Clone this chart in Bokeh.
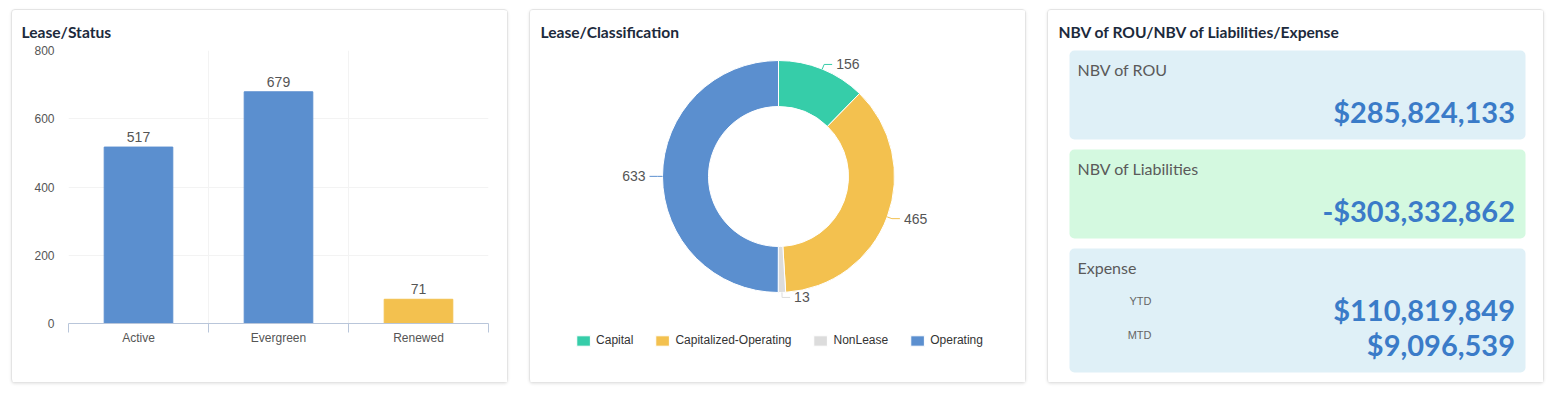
import math
from bokeh.plotting import figure
from bokeh.layouts import row
from bokeh.models import Range1d, FixedTicker, BoxAnnotation, ColumnDataSource
from bokeh.core.properties import value
from bokeh.embed import file_html
from bokeh.resources import INLINE

# ---------------- data ----------------
titles = ["Lease/Status", "Lease/Classification", "NBV of ROU/NBV of Liabilities/Expense"]

status_categories = ["Active", "Evergreen", "Renewed"]
status_counts = [517, 679, 71]
status_colors = ["#5b8fcf", "#5b8fcf", "#f3c14f"]
y_ticks = [0, 200, 400, 600, 800]

class_categories = ["Capital", "Capitalized-Operating", "NonLease", "Operating"]
class_counts = [156, 465, 13, 633]
class_colors = ["#36cda9", "#f3c14f", "#dcdcdc", "#5b8fcf"]

kpi_labels = ["NBV of ROU", "NBV of Liabilities", "Expense"]
kpi_values = ["$285,824,133", "-$303,332,862"]
expense_periods = ["YTD", "MTD"]
expense_values = ["$110,819,849", "$9,096,539"]
panel_colors = ["#dff0f7", "#d4f9e0", "#dff0f7"]

# ---------------- styling ----------------
W, H = 497, 374
CARD = {"border": "1px solid #e4e4e4", "border-radius": "4px",
        "box-shadow": "0 1px 3px rgba(0,0,0,0.10)", "background-color": "white"}
LATO = "Lato"
TITLE_COLOR = "#1c2a3c"
TITLE_SIZE = "15.6px"
ARIAL = "Liberation Sans"


def base_fig(**kw):
    p = figure(width=W, height=H, output_backend="svg", toolbar_location=None, **kw)
    p.outline_line_color = None
    p.background_fill_color = "white"
    p.border_fill_color = "white"
    p.frame_align = False
    p.styles = CARD
    return p


# ---------------- card 1: bar chart ----------------
n = len(status_categories)
centers = [i + 0.5 for i in range(n)]
bounds = [float(i) for i in range(n + 1)]
src1 = ColumnDataSource(dict(x=centers, top=status_counts, color=status_colors,
                             label=[str(v) for v in status_counts]))

p1 = base_fig(x_range=Range1d(0, n), y_range=Range1d(0, y_ticks[-1]),
              min_border_left=56, min_border_right=21, min_border_top=40, min_border_bottom=61)
p1.vbar(x="x", top="top", width=0.49, color="color", source=src1)
p1.text(x="x", y="top", text="label", source=src1, y_offset=-5, text_align="center",
        text_baseline="bottom", text_font=value(ARIAL), text_font_size="14px", text_color="#555555")

xa = p1.xaxis[0]
xa.ticker = FixedTicker(ticks=centers, minor_ticks=bounds)
xa.major_label_overrides = {c: s for c, s in zip(centers, status_categories)}
xa.axis_line_color = "#b9c6da"
xa.major_tick_line_color = None
xa.major_tick_out = 0
xa.major_tick_in = 0
xa.minor_tick_line_color = "#b9c6da"
xa.minor_tick_out = 9
xa.minor_tick_in = 0
xa.major_label_standoff = -2
xa.major_label_text_font = ARIAL
xa.major_label_text_font_size = "12px"
xa.major_label_text_color = "#555555"

ya = p1.yaxis[0]
ya.ticker = FixedTicker(ticks=y_ticks)
ya.axis_line_color = None
ya.major_tick_line_color = None
ya.minor_tick_line_color = None
ya.major_tick_out = 0
ya.major_tick_in = 0
ya.major_label_standoff = 14
ya.major_label_text_font = ARIAL
ya.major_label_text_font_size = "12px"
ya.major_label_text_color = "#555555"

p1.xgrid.ticker = FixedTicker(ticks=bounds)
p1.xgrid.grid_line_color = "#f3f3f3"
p1.ygrid.ticker = FixedTicker(ticks=y_ticks)
p1.ygrid.grid_line_color = "#f3f3f3"

p1.title.text = titles[0]
p1.title.align = "left"
p1.title.offset = -47
p1.title.vertical_align = "middle"
p1.title.standoff = 18
p1.title.text_font = LATO
p1.title.text_font_style = "bold"
p1.title.text_font_size = TITLE_SIZE
p1.title.text_color = TITLE_COLOR

# ---------------- card 2: donut ----------------
p2 = base_fig(x_range=Range1d(0, W), y_range=Range1d(0, H), x_axis_type=None, y_axis_type=None,
              min_border=0)
p2.xgrid.visible = False
p2.ygrid.visible = False

cx, cy, r_in, r_out = 248, 208, 70, 116
total = sum(class_counts)
starts, ends, mids = [], [], []
cum = 0
for v in class_counts:
    starts.append(math.pi / 2 - 2 * math.pi * cum / total)
    ends.append(math.pi / 2 - 2 * math.pi * (cum + v) / total)
    mids.append(math.pi / 2 - 2 * math.pi * (cum + v / 2) / total)
    cum += v

src2 = ColumnDataSource(dict(name=class_categories, start=starts, end=ends, color=class_colors))
p2.annular_wedge(x=cx, y=cy, inner_radius=r_in, outer_radius=r_out, start_angle="start",
                 end_angle="end", direction="clock", fill_color="color", line_color="white",
                 line_width=1, source=src2, legend_field="name")

xs, ys, tx, ty, talign = [], [], [], [], []
for m in mids:
    c, s = math.cos(m), math.sin(m)
    sgn = 1 if c >= 0 else -1
    x0, y0 = cx + r_out * c, cy + r_out * s
    x1, y1 = cx + (r_out + 5) * c, cy + (r_out + 5) * s
    x2 = x1 + 8 * sgn
    xs.append([x0, x1, x2])
    ys.append([y0, y1, y1])
    tx.append(x2 + 4 * sgn)
    ty.append(y1)
    talign.append("left" if sgn > 0 else "right")
p2.multi_line(xs=xs, ys=ys, line_color=class_colors, line_width=1)
p2.text(x=tx, y=ty, text=[str(v) for v in class_counts], text_align=talign,
        text_baseline="middle", text_font=value(ARIAL), text_font_size="14px",
        text_color="#555555")

lg = p2.legend[0]
lg.orientation = "horizontal"
lg.location = "bottom_center"
lg.margin = 37
lg.padding = 0
lg.spacing = 20
lg.glyph_width = 17
lg.glyph_height = 13
lg.label_standoff = 5
lg.label_text_font = ARIAL
lg.label_text_font_size = "12px"
lg.label_text_color = "#333333"
lg.border_line_color = None
lg.background_fill_alpha = 0

p2.text(x=[10], y=[H - 21], text=[titles[1]], text_baseline="middle", text_font=value(LATO),
        text_font_style="bold", text_font_size=TITLE_SIZE, text_color=TITLE_COLOR)

# ---------------- card 3: KPI panels ----------------
p3 = base_fig(x_range=Range1d(0, W), y_range=Range1d(0, H), x_axis_type=None, y_axis_type=None,
              min_border=0)
p3.xgrid.visible = False
p3.ygrid.visible = False

panel_tops = [40, 139, 238]
panel_bottoms = [129, 228, 362]
for t, b, col in zip(panel_tops, panel_bottoms, panel_colors):
    p3.add_layout(BoxAnnotation(left=21, right=477, top=H - t, bottom=H - b, fill_color=col,
                                fill_alpha=1, line_color=None, border_radius=5, level="underlay"))

p3.text(x=[29] * 3, y=[H - 59.2, H - 158.2, H - 257.2], text=kpi_labels, text_baseline="middle",
        text_font=value(LATO), text_font_size="16px", text_color="#5a5a5a")
p3.text(x=[466.5] * 2, y=[H - 101, H - 200], text=kpi_values, text_align="right",
        text_baseline="middle", text_font=value(LATO), text_font_style="bold",
        text_font_size="29px", text_color="#3a7bc8")
p3.text(x=[466.5] * 2, y=[H - 299, H - 334], text=expense_values, text_align="right",
        text_baseline="middle", text_font=value(LATO), text_font_style="bold",
        text_font_size="29px", text_color="#3a7bc8")
p3.text(x=[103] * 2, y=[H - 290, H - 324.7], text=expense_periods, text_align="right",
        text_baseline="middle", text_font=value(ARIAL), text_font_size="11px",
        text_color="#666666")
p3.text(x=[10], y=[H - 21], text=[titles[2]], text_baseline="middle", text_font=value(LATO),
        text_font_style="bold", text_font_size=TITLE_SIZE, text_color=TITLE_COLOR)

p1.margin = (9, 0, 0, 11)
p2.margin = (9, 0, 0, 0)
p3.margin = (9, 0, 0, 0)
layout = row(p1, p2, p3, spacing=21)

open("out.html", "w").write(file_html(layout, INLINE))
